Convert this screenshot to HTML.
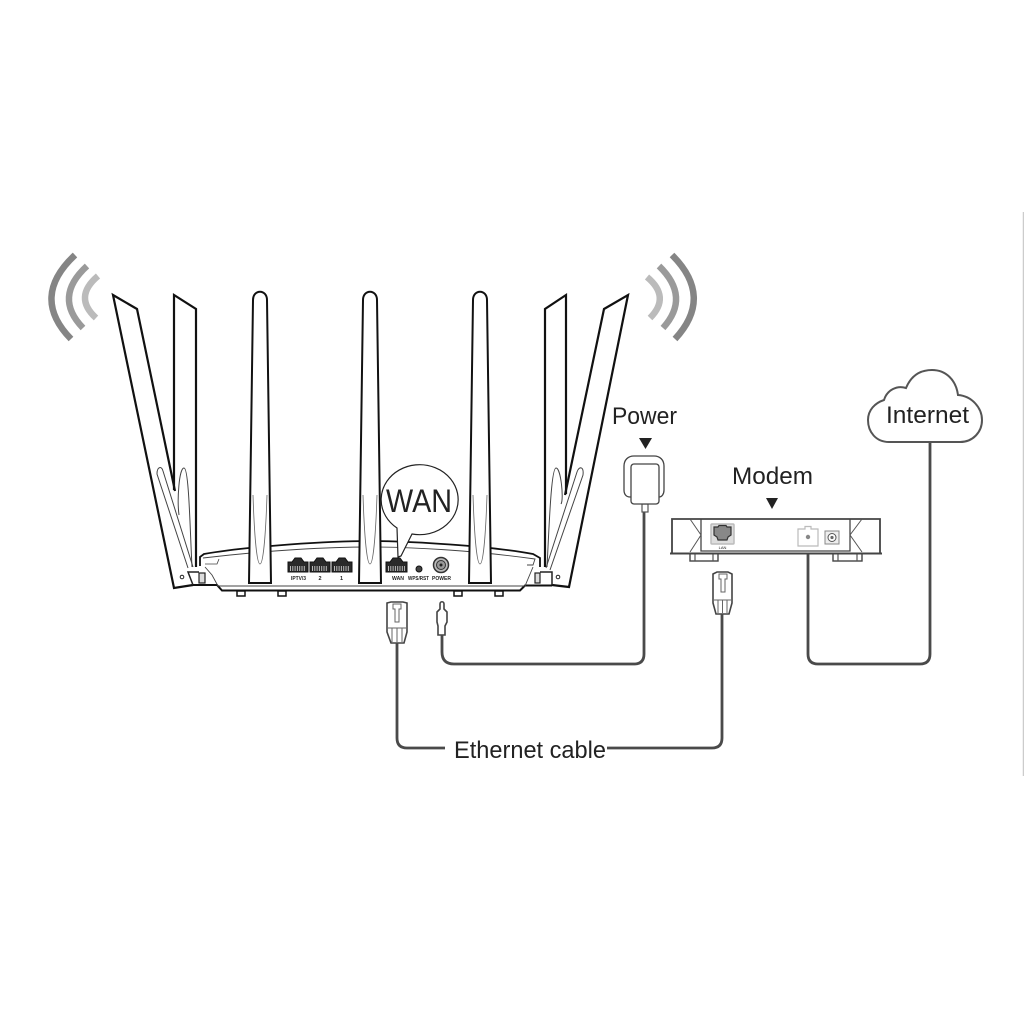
<!DOCTYPE html>
<html><head><meta charset="utf-8"><style>
html,body{margin:0;padding:0;background:#fff}
svg{display:block}
text{font-family:"Liberation Sans",sans-serif;fill:#222}
</style></head><body>
<svg width="1024" height="1024" viewBox="0 0 1024 1024" xmlns="http://www.w3.org/2000/svg">
<rect width="1024" height="1024" fill="#fff"/>
<line x1="1023.5" y1="212" x2="1023.5" y2="776" stroke="#ccc" stroke-width="1.5"/>

<!-- waves -->
<g fill="none" stroke-width="6.500">
<path d="M75 255Q30 297 71 339" stroke="#858585"/>
<path d="M87 266Q53 297 83 328" stroke="#9a9a9a"/>
<path d="M98 276Q73 297 96 318" stroke="#bbb"/>
<path d="M672 255Q714 297 675 339" stroke="#858585"/>
<path d="M659 266Q691 297 663 328" stroke="#9a9a9a"/>
<path d="M647 277Q671 297 650 318" stroke="#bbb"/>
</g>

<!-- side antennas: left -->
<path d="M174 295L196 309V570H174Z" fill="#fff"/>
<path d="M113 295L137 309L193 570V585L174 588Z" fill="#fff"/>
<g fill="none" stroke="#111" stroke-width="2.2" stroke-linejoin="miter">
<path d="M174 490V295L196 309V567"/>
<path d="M175 491L137 309L113 295L174 588L193 585"/>
</g>
<g fill="none" stroke="#444" stroke-width="1">
<path d="M188 568L157 474C157 466 162 466 163 471L193 567"/>
<path d="M192 567C190 530 189 468 184 468C179 468 177 500 179 515"/>
</g>
<circle cx="182" cy="577" r="1.800" fill="#fff" stroke="#222"/>
<path d="M193 585L188 572H199" fill="none" stroke="#222" stroke-width="1.500"/>

<!-- side antennas: right -->
<path d="M566 295L545 309V570H566Z" fill="#fff"/>
<path d="M628 295L604 309L550 570L552 585L569 587Z" fill="#fff"/>
<g fill="none" stroke="#111" stroke-width="2.2" stroke-linejoin="miter">
<path d="M566 494V295L545 309V567"/>
<path d="M565 495L604 309L628 295L569 587L552 585"/>
</g>
<g fill="none" stroke="#444" stroke-width="1">
<path d="M550 570L583 475C584 466 579 466 577 472L546 568"/>
<path d="M547 567C549 530 551 468 556 468C561 468 564 500 561 504"/>
</g>
<circle cx="558" cy="577" r="1.800" fill="#fff" stroke="#222"/>
<path d="M552 585V572H540" fill="none" stroke="#222" stroke-width="1.500"/>

<!-- router body -->
<path d="M200 566V557L204 554C250 546 330 541 370 541C410 541 490 546 533 554L540 558V567L533 570L525 585L520 590H222L217 586L206 570Z" fill="#fff"/>
<path d="M200 566V557L204 554C250 546 330 541 370 541C410 541 490 546 533 554L540 558V567" fill="none" stroke="#111" stroke-width="1.800"/>
<path d="M193 585H217L222 590.500H520L525 585.500H552" fill="none" stroke="#111" stroke-width="2"/>
<path d="M203 558C270 550 330 547 370 547C410 547 470 550 535 559L533 565H527" fill="none" stroke="#444" stroke-width="0.900"/>
<path d="M205 564L217 564L219 559" fill="none" stroke="#444" stroke-width="0.800"/>
<path d="M205 567L212 575L218 586H525L533 567" fill="none" stroke="#444" stroke-width="0.900"/>
<g fill="#fff" stroke="#111" stroke-width="1.500">
<rect x="237" y="591" width="8" height="5"/><rect x="278" y="591" width="8" height="5"/>
<rect x="454" y="591" width="8" height="5"/><rect x="495" y="591" width="8" height="5"/>
</g>
<g fill="#ddd" stroke="#222" stroke-width="1.200">
<rect x="199" y="573" width="6" height="10"/><rect x="535" y="573" width="5" height="10"/>
</g>

<!-- centre antennas -->
<g fill="#fff" stroke="#111" stroke-width="2">
<path d="M249 583L253 300C253 289 267 289 267 300L271 583Z"/>
<path d="M359 583L363 300C363 289 377 289 377 300L381 583Z"/>
<path d="M469 583L473 300C473 289 487 289 487 300L491 583Z"/>
</g>
<g fill="none" stroke="#666" stroke-width="0.800">
<path d="M253 495C256 587 264 587 267 495"/>
<path d="M363 495C366 587 374 587 377 495"/>
<path d="M473 495C476 587 484 587 487 495"/>
</g>

<!-- ports -->
<g fill="#2a2a2a" stroke="#111" stroke-width="1">
<path d="M288 572V562H292L295 558H301L304 562H308V572Z"/>
<path d="M310 572V562H314L317 558H323L326 562H330V572Z"/>
<path d="M332 572V562H336L339 558H345L348 562H352V572Z"/>
<path d="M386 572V562H390L393 558H400L403 562H407V572Z"/>
</g>
<g stroke="#bbb" stroke-width="5" stroke-dasharray="1 1.300" fill="none">
<path d="M290 568.500H306"/><path d="M312 568.500H328"/><path d="M334 568.500H350"/><path d="M388 568.500H405"/>
</g>
<circle cx="419" cy="569" r="3" fill="#444" stroke="#111"/>
<circle cx="441" cy="565" r="7.500" fill="#bbb" stroke="#333" stroke-width="1.500"/>
<circle cx="441" cy="565" r="4.500" fill="#999" stroke="#333"/>
<circle cx="441" cy="565" r="1.500" fill="#222"/>
<g font-size="5.500" style="fill:#444" font-weight="bold">
<text x="291" y="580" textLength="15" lengthAdjust="spacingAndGlyphs" fill="#444">IPTV/3</text>
<text x="318.500" y="580" fill="#444">2</text><text x="340" y="580" fill="#444">1</text>
<text x="392" y="580" textLength="12" lengthAdjust="spacingAndGlyphs" fill="#444">WAN</text>
<text x="408" y="580" textLength="21" lengthAdjust="spacingAndGlyphs" fill="#444">WPS/RST</text>
<text x="432" y="580" textLength="19" lengthAdjust="spacingAndGlyphs" fill="#444">POWER</text>
</g>

<!-- WAN bubble -->
<path d="M397 528A38.500 35 0 1 1 412 534L401 556L398 557Z" fill="#fff" stroke="#222" stroke-width="1.200"/>
<text x="386" y="512" font-size="32" textLength="66" lengthAdjust="spacingAndGlyphs">WAN</text>

<!-- plugs -->
<g fill="#fff" stroke="#444" stroke-width="1.600">
<path d="M387 603L391 602H403L407 603V632L404 643H391L387 632Z"/>
<path d="M713 574L717 572H728L732 574V603L729 614H716L713 603Z"/>
<path d="M440 609V604C440 601 444 601 444 604V609L447 612V622L445 626V635H438V626L437 622V612Z"/>
</g>
<g fill="none" stroke="#666" stroke-width="1">
<path d="M393 604H401V609H399V622H395V609H393Z"/>
<path d="M388 628H406M392 628V642M397 628V642M402 628V642"/>
<path d="M719 574H727V579H725V592H721V579H719Z"/>
<path d="M714 600H731M718 600V613M722.500 600V613M727 600V613"/>
</g>

<!-- cables -->
<g fill="none" stroke="#4a4a4a" stroke-width="2.800">
<path d="M397 643V738Q397 748 407 748H445"/>
<path d="M607 748H712Q722 748 722 738V614"/>
<path d="M442 635V652Q442 664 454 664H634Q644 664 644 654V512"/>
<path d="M808 546V654Q808 664 818 664H920Q930 664 930 654V442"/>
</g>

<!-- adapter -->
<rect x="642" y="504" width="6" height="8" fill="#fff" stroke="#555" stroke-width="1.200"/>
<path d="M631 497H630C626 497 624 494 624 490V466C624 460 628 456 634 456H654C660 456 664 460 664 466V490C664 494 662 497 659 497" fill="#fff" stroke="#444" stroke-width="1.300"/>
<rect x="631" y="464" width="28" height="40" rx="3" fill="#fff" stroke="#444" stroke-width="1.300"/>

<!-- modem -->
<g fill="#fff" stroke="#444" stroke-width="1.400">
<rect x="690" y="553" width="28" height="8"/>
<rect x="833" y="553" width="29" height="8"/>
</g>
<path d="M695 553V561M713 553V561M838 553V561M857 553V561" stroke="#555" stroke-width="1.200"/>
<path d="M672 553V519H880V553" fill="#fff" stroke="#444" stroke-width="1.800"/>
<path d="M670 553.500H882" stroke="#444" stroke-width="2"/>
<path d="M701 519V551H850V519" fill="none" stroke="#444" stroke-width="1.300"/>
<path d="M690 519L701 535L690 552M862 519L850 535L862 552" fill="none" stroke="#555" stroke-width="1"/>
<rect x="711" y="524" width="23" height="20" rx="1" fill="#ddd" stroke="#bbb" stroke-width="1.500"/>
<path d="M714 527H718L719 525.500H726L727 527H731V535L728 537L727 540H718L717 537L714 535Z" fill="#888" stroke="#333" stroke-width="1.200"/>
<text x="722.500" y="549" font-size="4" text-anchor="middle">LAN</text>
<path d="M798 529H805V526.500H811V529H818V546H798Z" fill="#fff" stroke="#bbb" stroke-width="1.200"/>
<circle cx="808" cy="537" r="2.200" fill="#888"/>
<rect x="825" y="531" width="14" height="13" fill="#eee" stroke="#888"/>
<circle cx="832" cy="537.500" r="4" fill="#fff" stroke="#555"/>
<circle cx="832" cy="537.500" r="1.600" fill="#666"/>

<!-- cloud -->
<path d="M889 442C876 442 868 432 868 420C868 410 875 403 884 400C887 390 897 385 906 388C911 376 920 370 932 370C946 370 956 380 958 395C972 396 982 408 982 420C982 432 973 442 960 442Z" fill="#fff" stroke="#555" stroke-width="2"/>

<!-- labels -->
<g font-size="24">
<text x="886" y="423" textLength="83" lengthAdjust="spacingAndGlyphs">Internet</text>
<text x="612" y="424" textLength="65" lengthAdjust="spacingAndGlyphs">Power</text>
<text x="732" y="484" textLength="81" lengthAdjust="spacingAndGlyphs">Modem</text>
<text x="454" y="758" textLength="152" lengthAdjust="spacingAndGlyphs">Ethernet cable</text>
</g>
<path d="M639 438H652L645.500 449Z" fill="#222"/>
<path d="M766 498H778L772 509Z" fill="#222"/>
</svg>
</body></html>
